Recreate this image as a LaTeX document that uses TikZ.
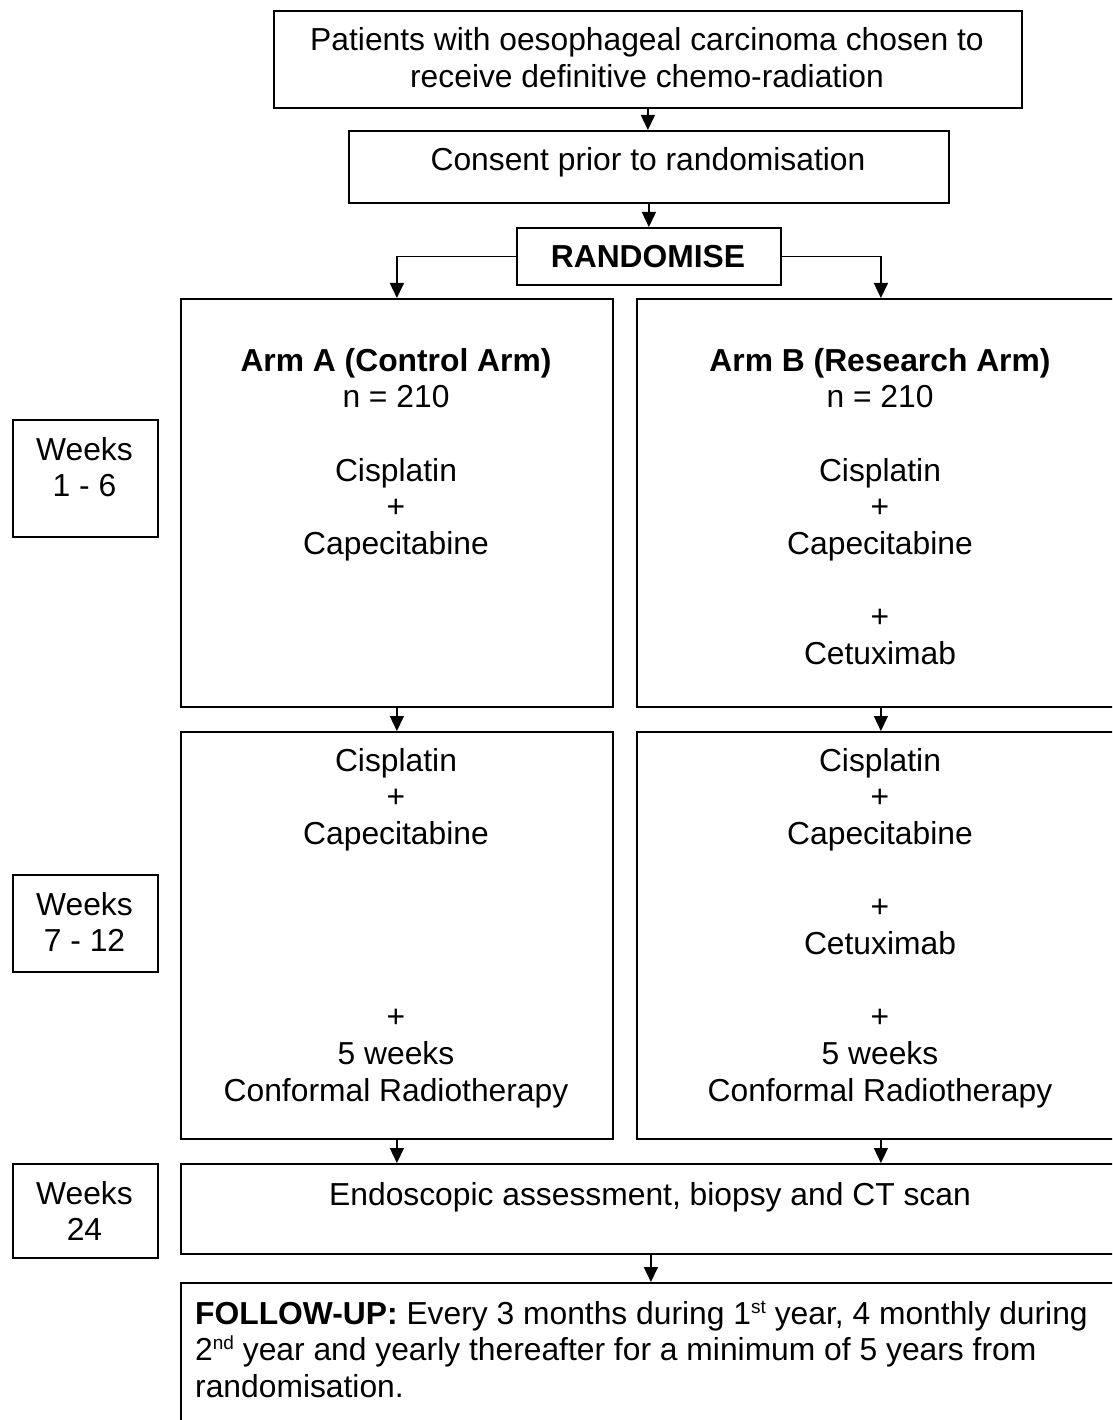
\documentclass[tikz,border=0pt]{standalone}
\usepackage{fontspec}
\setmainfont{Liberation Sans}
\usetikzlibrary{arrows.meta}
\newcommand{\mlc}[1]{\parbox[t]{1000pt}{\centering #1}}
\newcommand{\mll}[1]{\parbox[t]{960pt}{\raggedright #1}}
\newcommand{\supx}[1]{\raisebox{11pt}{\fontsize{19}{19}\selectfont #1}}
\begin{document}
\begin{tikzpicture}[x=1pt,y=-1pt,
  box/.style={draw, line width=1.8pt, rectangle, inner sep=0pt, anchor=north west},
  arr/.style={-{Triangle[width=14pt,length=15pt]}, line width=1.5pt},
  txt/.style={inner sep=0pt, anchor=base, font=\fontsize{31.8}{36.7}\selectfont},
  txtl/.style={inner sep=0pt, anchor=base west, font=\fontsize{31.8}{36.7}\selectfont}]
\useasboundingbox (0,0) rectangle (1112,1420);
\clip (0,0) rectangle (1112,1420);
\fill[white] (0,0) rectangle (1112,1420);

% boxes
\node[box, minimum width=748pt, minimum height=97pt] (top) at (273,10) {};
\node[box, minimum width=600pt, minimum height=72pt] (consent) at (348,130) {};
\node[box, minimum width=264pt, minimum height=57pt] (rand) at (516,227) {};
\node[box, minimum width=432pt, minimum height=408pt] (armA1) at (180,298) {};
\node[box, minimum width=488pt, minimum height=408pt] (armB1) at (636,298) {};
\node[box, minimum width=432pt, minimum height=407pt] (armA2) at (180,731) {};
\node[box, minimum width=488pt, minimum height=407pt] (armB2) at (636,731) {};
\node[box, minimum width=940pt, minimum height=90pt] (endo) at (180,1163) {};
\node[box, minimum width=940pt, minimum height=220pt] (follow) at (180,1282) {};
\node[box, minimum width=145pt, minimum height=117pt] (w1) at (12,419) {};
\node[box, minimum width=145pt, minimum height=97pt] (w2) at (12,874) {};
\node[box, minimum width=145pt, minimum height=94pt] (w3) at (12,1163) {};

% texts
\node[txt] (ttop) at (647,51) {\mlc{Patients with oesophageal carcinoma chosen to\\receive definitive chemo-radiation}};
\node[txt] (tconsent) at (648,171) {Consent prior to randomisation};
\node[txt] (trand) at (648,268) {\textbf{RANDOMISE}};
\node[txt] (tA1) at (396,371) {\mlc{\textbf{Arm A (Control Arm)}\\n = 210\\ \mbox{}\\Cisplatin\\+\\Capecitabine}};
\node[txt] (tB1) at (880,371) {\mlc{\textbf{Arm B (Research Arm)}\\n = 210\\ \mbox{}\\Cisplatin\\+\\Capecitabine\\ \mbox{}\\+\\Cetuximab}};
\node[txt] (tA2) at (396,771) {\mlc{Cisplatin\\+\\Capecitabine\\ \mbox{}\\ \mbox{}\\ \mbox{}\\ \mbox{}\\+\\5 weeks\\Conformal Radiotherapy}};
\node[txt] (tB2) at (880,771) {\mlc{Cisplatin\\+\\Capecitabine\\ \mbox{}\\+\\Cetuximab\\ \mbox{}\\+\\5 weeks\\Conformal Radiotherapy}};
\node[txt] (tw1) at (84.5,460) {\mlc{Weeks\\1 - 6}};
\node[txt] (tw2) at (84.5,915) {\mlc{Weeks\\7 - 12}};
\node[txt] (tw3) at (84.5,1204) {\mlc{Weeks\\24}};
\node[txt] (tendo) at (650,1205) {Endoscopic assessment, biopsy and CT scan};
\node[txtl] (tfollow) at (195,1324) {\mll{\textbf{FOLLOW-UP:} Every 3 months during 1\supx{st} year, 4 monthly during\\2\supx{nd} year and yearly thereafter for a minimum of 5 years from\\randomisation.}};

% connectors
\draw[arr] (top.south) -- (top.south |- consent.north);
\draw[arr] (consent.south) -- (consent.south |- rand.north);
\draw[arr] (rand.west) -| (armA1.north);
\draw[arr] (rand.east) -| (armB1.north);
\draw[arr] (armA1.south) -- (armA2.north);
\draw[arr] (armB1.south) -- (armB2.north);
\draw[arr] (armA2.south) -- (armA2.south |- endo.north);
\draw[arr] (armB2.south) -- (armB2.south |- endo.north);
\draw[arr] (endo.south) -- (endo.south |- follow.north);
\end{tikzpicture}
\end{document}
